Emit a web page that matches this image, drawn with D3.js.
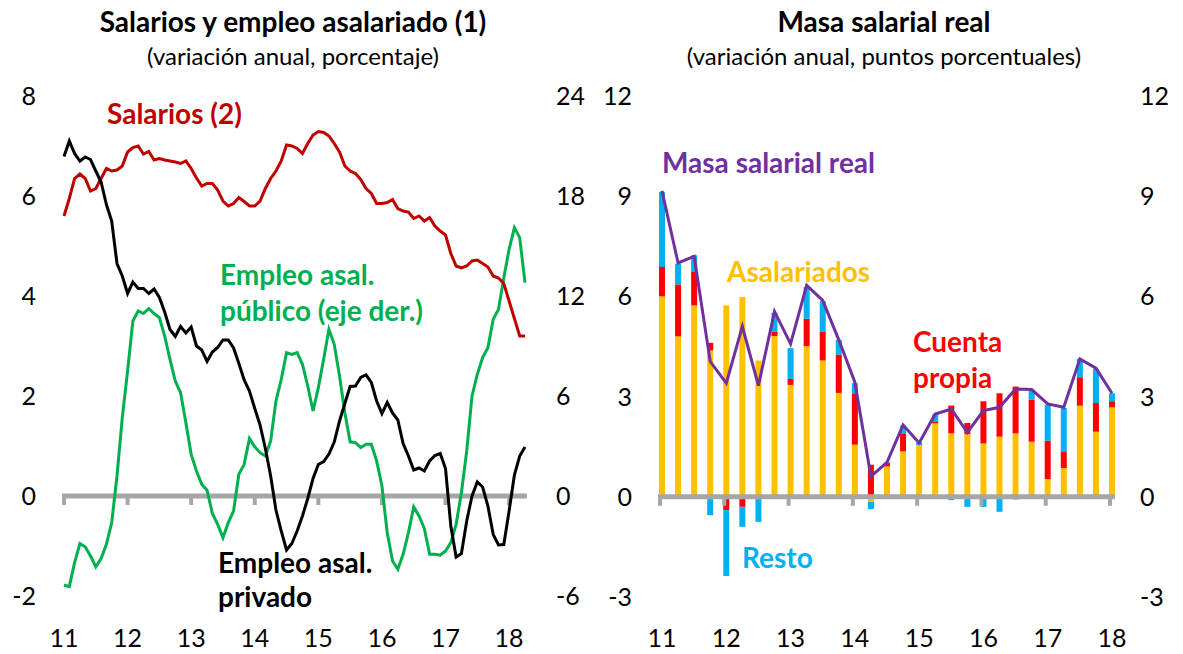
<!DOCTYPE html>
<html>
<head>
<meta charset="utf-8">
<script src="https://cdn.jsdelivr.net/npm/d3@7"></script>
<style>
  body { margin: 0; background: #fff; }
  svg text { font-family: Lato, "Open Sans", sans-serif; }
</style>
</head>
<body>
<script>
// Tick labels (years)
const yearLabels = ["11", "12", "13", "14", "15", "16", "17", "18"];

// Left chart: monthly data, Jan 2011 - Apr 2018
const salarios = [5.6, 5.95, 6.35, 6.44, 6.35, 6.1, 6.15, 6.35, 6.55, 6.5, 6.52, 6.6,
  6.88, 6.97, 7.0, 6.84, 6.89, 6.72, 6.75, 6.72, 6.7, 6.68, 6.65, 6.7,
  6.55, 6.36, 6.2, 6.25, 6.25, 6.12, 5.9, 5.8, 5.85, 5.97, 5.89, 5.8,
  5.8, 5.9, 6.15, 6.35, 6.5, 6.7, 7.02, 7.0, 6.95, 6.85, 7.05, 7.22,
  7.29, 7.27, 7.2, 7.05, 6.88, 6.6, 6.5, 6.45, 6.33, 6.15, 6.05, 5.85,
  5.85, 5.87, 5.93, 5.75, 5.7, 5.68, 5.55, 5.6, 5.5, 5.57, 5.4, 5.3,
  5.22, 4.85, 4.6, 4.56, 4.6, 4.7, 4.72, 4.65, 4.58, 4.4, 4.36, 4.25,
  3.9, 3.55, 3.2, 3.2];

const empleoPrivado = [6.79, 7.1, 6.85, 6.7, 6.78, 6.73, 6.5, 6.28, 5.83, 5.5, 4.65, 4.4,
  4.05, 4.28, 4.15, 4.15, 4.05, 4.14, 3.97, 3.68, 3.33, 3.19, 3.39, 3.26,
  3.38, 3.0, 2.92, 2.69, 2.88, 2.97, 3.12, 3.12, 2.96, 2.65, 2.32, 2.1,
  1.75, 1.42, 0.95, 0.4, -0.28, -0.7, -1.08, -0.95, -0.7, -0.4, -0.05, 0.35,
  0.63, 0.69, 0.84, 1.08, 1.5, 1.85, 2.19, 2.2, 2.37, 2.42, 2.27, 1.9,
  1.65, 1.87, 1.66, 1.52, 1.05, 0.8, 0.52, 0.56, 0.5, 0.7, 0.81, 0.85,
  0.55, -0.6, -1.22, -1.15, -0.5, 0.0, 0.28, 0.18, -0.2, -0.77, -0.98, -0.97,
  -0.3, 0.42, 0.8, 0.98];

// right axis
const empleoPublico = [-5.34, -5.44, -4.0, -2.85, -3.05, -3.6, -4.25, -3.75, -2.9, -1.6, 1.2, 4.7,
  7.5, 10.5, 11.1, 10.95, 11.25, 10.95, 10.7, 9.6, 8.2, 6.9, 6.2, 4.4,
  2.5, 1.5, 0.7, 0.35, -1.05, -1.7, -2.5, -1.6, -0.9, 1.3, 1.9, 3.45,
  2.95, 2.6, 2.4, 3.3, 5.7, 7.0, 8.6, 8.5, 8.6, 7.9, 6.6, 5.1,
  6.5, 8.2, 10.0, 9.1, 7.2, 5.0, 3.25, 3.2, 2.9, 3.1, 3.1, 2.1,
  0.6, -2.2, -3.9, -4.4, -3.5, -2.2, -0.65, -1.2, -1.95, -3.5, -3.5, -3.55,
  -3.3, -2.8, -1.7, 0.2, 2.7, 6.0, 7.3, 8.3, 8.9, 10.6, 11.2, 13.1,
  14.8, 16.1, 15.5, 12.8];

// Right chart: quarterly contributions, 2011Q1 - 2018Q1
const asalariados = [6.0, 4.8, 5.73, 4.38, 5.73, 5.98, 4.08, 4.81, 3.35, 4.51, 4.08, 3.11, 1.56, -0.15, 0.91,
  1.36, 1.55, 2.2, 1.9, 1.88, 1.6, 1.8, 1.9, 1.65, 0.53, 0.86, 2.73, 1.95, 2.68];
const cuentaPropia = [0.88, 1.56, 1.0, 0.23, -0.4, -0.3, -0.08, 0.14, 0.18, 0.82, 0.87, 1.15, 1.54, 0.96, 0.1,
  0.54, 0.0, 0.06, 0.83, 0.33, 1.26, 1.3, 1.4, 1.26, 1.15, 0.5, 0.85, 0.86, 0.18];
const resto = [2.25, 0.62, 0.5, -0.55, -1.97, -0.6, -0.67, 0.56, 0.92, 0.95, 0.91, 0.44, 0.3, -0.22, 0.02,
  0.23, 0.08, 0.22, -0.1, -0.3, -0.3, -0.45, -0.08, 0.28, 1.08, 1.3, 0.55, 1.02, 0.24];
const masaSalarial = [9.16, 7.0, 7.2, 4.05, 3.4, 5.1, 3.33, 5.55, 4.58, 6.33, 5.88, 4.7, 3.43, 0.61, 1.03,
  2.15, 1.61, 2.48, 2.63, 1.93, 2.58, 2.68, 3.23, 3.21, 2.78, 2.68, 4.13, 3.85, 3.1];

const W = 1183, H = 654;
const gray = "#a6a6a6";
const fs = 25;     // tick labels
const lfs = 28;    // series labels

const svg = d3.select("body").append("svg")
  .attr("width", W).attr("height", H);

// ---------- titles ----------
function title(cx, main, sub) {
  svg.append("text").attr("x", cx).attr("y", 32).attr("text-anchor", "middle")
    .attr("font-size", 28).attr("font-weight", "bold").text(main);
  svg.append("text").attr("x", cx).attr("y", 65).attr("text-anchor", "middle")
    .attr("font-size", 24).text(sub);
}
title(293, "Salarios y empleo asalariado (1)", "(variación anual, porcentaje)");
title(884, "Masa salarial real", "(variación anual, puntos porcentuales)");

function label(x, y, txt, color) {
  svg.append("text").attr("x", x).attr("y", y)
    .attr("font-size", lfs).attr("font-weight", "bold")
    .attr("fill", color).text(txt);
}

// ---------- left chart ----------
const xL = d3.scaleLinear().domain([0, 87]).range([64, 525]);
const yL = d3.scaleLinear().domain([-2, 8]).range([596, 96]);
const yR = d3.scaleLinear().domain([-6, 24]).range([596, 96]);

const left = svg.append("g");

// y tick labels
left.selectAll(".yl").data(yL.ticks(5)).join("text")
  .attr("x", 36).attr("y", d => yL(d)).attr("dy", "0.36em")
  .attr("text-anchor", "end").attr("font-size", fs).text(d => d);
left.selectAll(".yr").data(d3.range(-6, 25, 6)).join("text")
  .attr("x", 556).attr("y", d => yR(d)).attr("dy", "0.36em")
  .attr("font-size", fs).text(d => d);

// zero axis with ticks
left.append("line").attr("x1", 62).attr("x2", 527)
  .attr("y1", yL(0)).attr("y2", yL(0))
  .attr("stroke", gray).attr("stroke-width", 5);
left.selectAll(".tk").data(d3.range(0, 85, 12)).join("line")
  .attr("x1", d => xL(d)).attr("x2", d => xL(d))
  .attr("y1", yL(0)).attr("y2", yL(0) + 9)
  .attr("stroke", gray).attr("stroke-width", 4);
left.selectAll(".xl").data(yearLabels).join("text")
  .attr("x", (d, i) => xL(i * 12)).attr("y", 647)
  .attr("text-anchor", "middle").attr("font-size", fs).text(d => d);

const lineL = d3.line().x((d, i) => xL(i)).y(d => yL(d));
const lineR = d3.line().x((d, i) => xL(i)).y(d => yR(d));

left.append("path").datum(empleoPublico).attr("d", lineR)
  .attr("fill", "none").attr("stroke", "#00b050").attr("stroke-width", 3);
left.append("path").datum(salarios).attr("d", lineL)
  .attr("fill", "none").attr("stroke", "#c00000").attr("stroke-width", 3);
left.append("path").datum(empleoPrivado).attr("d", lineL)
  .attr("fill", "none").attr("stroke", "#000").attr("stroke-width", 3);

label(107, 124, "Salarios (2)", "#c00000");
label(220, 285, "Empleo asal.", "#00b050");
label(220, 321, "público (eje der.)", "#00b050");
label(218, 573, "Empleo asal.", "#000");
label(218, 607, "privado", "#000");

// ---------- right chart ----------
const xQ = d3.scaleLinear().domain([0, 28]).range([662, 1112]);
const yB = d3.scaleLinear().domain([-3, 12]).range([597, 96]);

const right = svg.append("g");

right.selectAll(".yl").data(d3.range(-3, 13, 3)).join("text")
  .attr("x", 632).attr("y", d => yB(d)).attr("dy", "0.36em")
  .attr("text-anchor", "end").attr("font-size", fs).text(d => d);
right.selectAll(".yr").data(d3.range(-3, 13, 3)).join("text")
  .attr("x", 1140).attr("y", d => yB(d)).attr("dy", "0.36em")
  .attr("font-size", fs).text(d => d);

const rows = asalariados.map((d, i) => ({
  q: i, asal: d, cp: cuentaPropia[i], resto: resto[i]
}));
const keys = ["asal", "cp", "resto"];
const colors = { asal: "#ffc000", cp: "#ff0000", resto: "#00b0f0" };
const stack = d3.stack().keys(keys).offset(d3.stackOffsetDiverging)(rows);

const bw = 6;
right.selectAll(".layer").data(stack).join("g")
  .attr("fill", d => colors[d.key])
  .selectAll("rect").data(d => d).join("rect")
  .attr("x", d => xQ(d.data.q) - bw / 2)
  .attr("y", d => yB(Math.max(d[0], d[1])))
  .attr("width", bw)
  .attr("height", d => Math.abs(yB(d[0]) - yB(d[1])));

right.append("line").attr("x1", 658).attr("x2", 1115)
  .attr("y1", yB(0)).attr("y2", yB(0))
  .attr("stroke", gray).attr("stroke-width", 5);
right.selectAll(".tk").data(d3.range(0, 29, 4)).join("line")
  .attr("x1", d => xQ(d) - 2).attr("x2", d => xQ(d) - 2)
  .attr("y1", yB(0)).attr("y2", yB(0) + 9)
  .attr("stroke", gray).attr("stroke-width", 4);
right.selectAll(".xl").data(yearLabels).join("text")
  .attr("x", (d, i) => xQ(i * 4)).attr("y", 647)
  .attr("text-anchor", "middle").attr("font-size", fs).text(d => d);

right.append("path").datum(masaSalarial)
  .attr("d", d3.line().x((d, i) => xQ(i)).y(d => yB(d)))
  .attr("fill", "none").attr("stroke", "#7030a0").attr("stroke-width", 3);

label(662, 173, "Masa salarial real", "#7030a0");
label(727, 282, "Asalariados", "#ffc000");
label(913, 352, "Cuenta", "#ff0000");
label(913, 388, "propia", "#ff0000");
label(742, 568, "Resto", "#00b0f0");
</script>
</body>
</html>
